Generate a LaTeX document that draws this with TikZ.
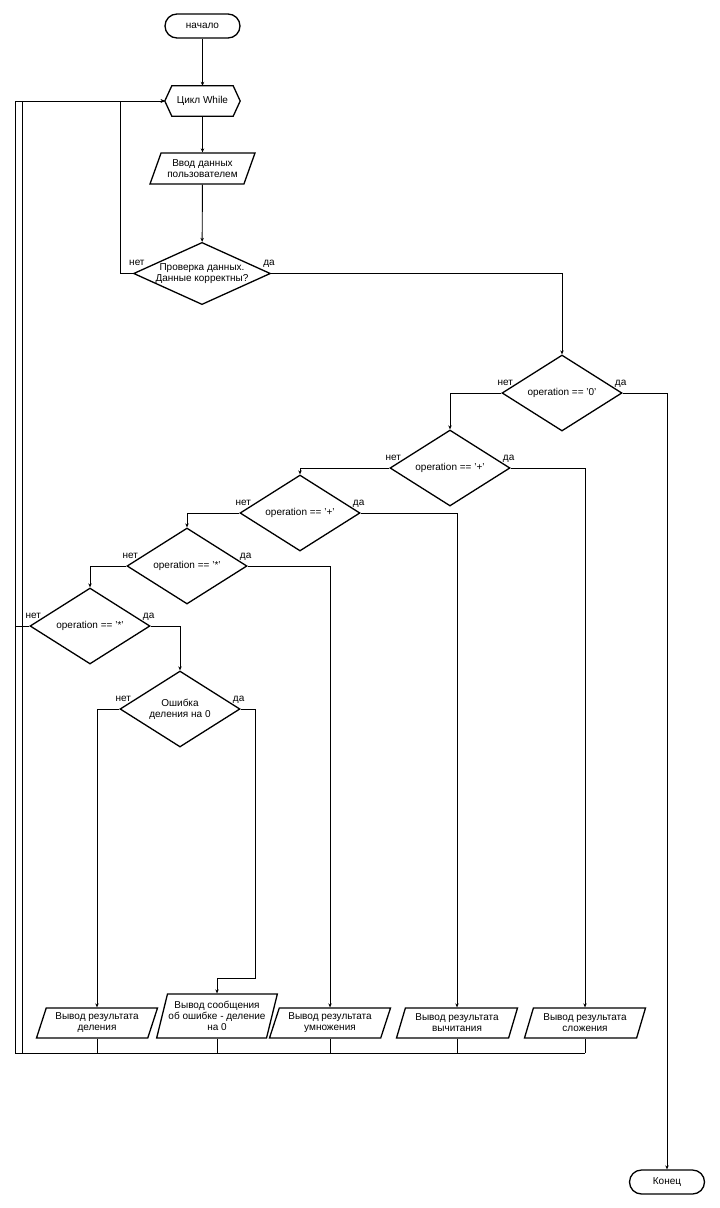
\documentclass[tikz,border=0pt]{standalone}
\usepackage{fontspec}
\setmainfont{Liberation Sans}
\usetikzlibrary{shapes.geometric,arrows.meta}
\begin{document}
\begin{tikzpicture}[x=1pt,y=-1pt,
  font=\fontsize{10}{11}\selectfont,
  line/.style={line width=0.9pt},
  arr/.style={line, -{Stealth[length=4pt,width=3.5pt]}},
  shapeline/.style={draw, line width=1.3pt},
  term/.style={shapeline, rectangle, rounded corners=12pt, minimum width=75pt, minimum height=24pt, inner sep=0pt},
  dec/.style={shapeline, diamond, inner sep=0pt, minimum width=120pt, minimum height=76pt, aspect=1.58, align=center},
  io/.style={shapeline, trapezium, trapezium left angle=66, trapezium right angle=114, trapezium stretches body, minimum width=121pt, minimum height=30pt, inner sep=1pt, align=center},
  lbl/.style={inner sep=0pt, anchor=base}]
\useasboundingbox (0,0) rectangle (720,1208);

% nodes
\node[term] (start) at (202.5,26) {начало};
\node[minimum width=75pt, minimum height=30pt, inner sep=0pt] (loop) at (202.5,101) {Цикл While};
\draw[line width=1.3pt] (loop.west) -- ([xshift=7pt]loop.north west) -- ([xshift=-7pt]loop.north east) -- (loop.east) -- ([xshift=-7pt]loop.south east) -- ([xshift=7pt]loop.south west) -- cycle;
\node[io, trapezium left angle=61, trapezium right angle=119, minimum width=105pt, minimum height=31pt] (input) at (202.5,168.5) {Ввод данных\\пользователем};
\node[dec, minimum width=133pt, minimum height=60pt, aspect=2.2] (check) at (202,273.5) {Проверка данных.\\Данные корректны?};
\node[dec] (op0) at (562,393) {operation == '0'};
\node[dec] (opadd) at (450,468) {operation == '+'};
\node[dec] (opsub) at (300,513) {operation == '+'};
\node[dec] (opmul) at (187,566) {operation == '*'};
\node[dec] (opdiv) at (90,626) {operation == '*'};
\node[dec] (err) at (180,709) {Ошибка\\деления на 0};
\node[io] (outdiv) at (97,1023) {Вывод результата\\деления};
\node[io, trapezium left angle=71, trapezium right angle=109, minimum width=120pt, minimum height=44pt] (outerr) at (217,1016) {Вывод сообщения\\об ошибке - деление\\на 0};
\node[io] (outmul) at (330,1023) {Вывод результата\\умножения};
\node[io] (outsub) at (457,1023) {Вывод результата\\вычитания};
\node[io] (outadd) at (585,1023) {Вывод результата\\сложения};
\node[term] (end) at (667,1182) {Конец};

% labels
\foreach \n in {check,op0,opadd,opsub,opmul,opdiv,err}{
  \node[lbl] at ([xshift=4pt,yshift=8pt]\n.west) {нет};
  \node[lbl] at ([xshift=-2pt,yshift=8pt]\n.east) {да};
}

% coordinates
\coordinate (j1) at (120,101);
\coordinate (tl) at (15,101);
\coordinate (tl2) at (22,101);
\coordinate (bl) at (15,1053);
\coordinate (bl2) at (22,1053);
\coordinate (k1) at (255,978);

% connectors
\draw[arr] (start) -- (loop);
\draw[arr] (loop) -- (input);
\draw[arr] (input) -- (check);
\draw[arr] (check.west) -| (j1) -- (loop.west);
\draw[arr] (check.east) -| (op0.north);
\draw[arr] (op0.east) -| (end.north);
\draw[arr] (op0.west) -| (opadd.north);
\draw[arr] (opadd.east) -| (outadd.north);
\draw[arr] (opadd.west) -| (opsub.north);
\draw[arr] (opsub.east) -| (outsub.north);
\draw[arr] (opsub.west) -| (opmul.north);
\draw[arr] (opmul.east) -| (outmul.north);
\draw[arr] (opmul.west) -| (opdiv.north);
\draw[arr] (opdiv.east) -| (err.north);
\draw[line] (opdiv.west) -- (opdiv.west -| bl);
\draw[arr] (err.west) -| (outdiv.north);
\draw[arr] (err.east) -| (k1) -| (outerr.north);

% loop back
\draw[line] (bl) -- (tl);
\draw[line] (bl2) -- (tl2);
\draw[arr] (tl) -- (loop.west);
\draw[line] (bl) -- (outadd.south |- bl);
\foreach \n in {outdiv,outerr,outmul,outsub,outadd}{
  \draw[line] (\n.south) -- (\n.south |- bl);
}
\end{tikzpicture}
\end{document}
